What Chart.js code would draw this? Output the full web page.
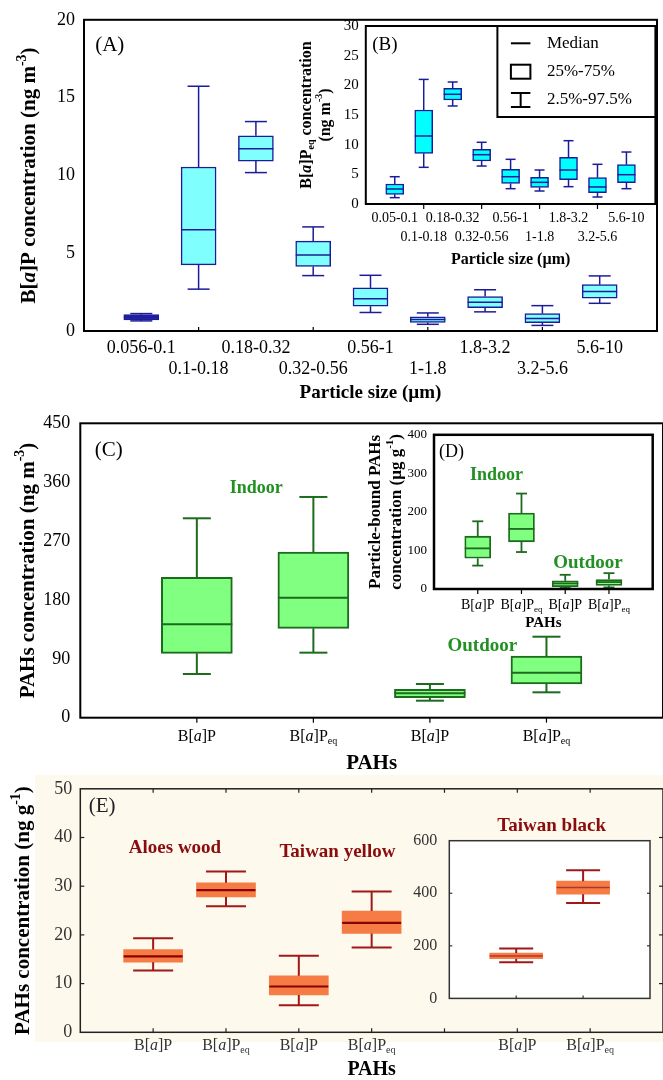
<!DOCTYPE html>
<html>
<head>
<meta charset="utf-8">
<title>B[a]P box plots</title>
<script src="https://cdn.jsdelivr.net/npm/chart.js@4.4.1/dist/chart.umd.min.js"></script>
<style>
  html, body { margin: 0; padding: 0; background: #fff; }
  #fig { position: relative; width: 663px; height: 1080px; overflow: hidden; }
  #fig canvas { position: absolute; }
  #bgE { position: absolute; left: 35px; top: 775px; width: 628px; height: 267px; background: #fdf9ec; }
</style>
</head>
<body>
<div id="fig">
  <div id="bgE"></div>
  <canvas id="chartA" width="663" height="410" style="left:0;top:0"></canvas>
  <canvas id="chartB" width="373" height="265" style="left:290px;top:10px"></canvas>
  <canvas id="chartC" width="663" height="376" style="left:0;top:400px"></canvas>
  <canvas id="chartD" width="303" height="215" style="left:360px;top:420px"></canvas>
  <canvas id="chartE" width="663" height="314" style="left:0;top:770px"></canvas>
  <canvas id="chartTB" width="263" height="210" style="left:400px;top:810px"></canvas>
</div>
<script>
const SERIF = '"Liberation Serif", "Times New Roman", serif';

// (A) B[a]P by particle size, ng m-3
const sizeLabelsA = ['0.056-0.1', '0.1-0.18', '0.18-0.32', '0.32-0.56', '0.56-1', '1-1.8', '1.8-3.2', '3.2-5.6', '5.6-10'];
const aLow  = [0.65, 2.69, 10.18, 3.56, 1.19, 0.43, 1.23, 0.36, 1.78];
const aQ1   = [0.72, 4.25, 10.92, 4.15, 1.59, 0.55, 1.50, 0.53, 2.11];
const aMed  = [0.88, 6.50, 11.72, 4.89, 2.07, 0.74, 1.84, 0.81, 2.54];
const aQ3   = [1.05, 10.54, 12.55, 5.78, 2.77, 0.91, 2.22, 1.12, 2.98];
const aHigh = [1.12, 15.73, 13.46, 6.69, 3.58, 1.16, 2.65, 1.63, 3.54];

// (B) B[a]Peq by particle size, ng m-3
const sizeLabelsB = ['0.05-0.1', '0.1-0.18', '0.18-0.32', '0.32-0.56', '0.56-1', '1-1.8', '1.8-3.2', '3.2-5.6', '5.6-10'];
const bLow  = [1.07, 6.18, 16.52, 6.40, 2.58, 2.19, 2.92, 1.18, 2.58];
const bQ1   = [1.63, 8.54, 17.53, 7.25, 3.48, 2.81, 4.10, 1.91, 3.59];
const bMed  = [2.53, 11.46, 18.49, 8.31, 4.60, 3.65, 5.73, 2.87, 4.94];
const bQ3   = [3.37, 15.84, 19.50, 9.21, 5.84, 4.49, 7.87, 4.44, 6.63];
const bHigh = [4.60, 21.00, 20.56, 10.40, 7.53, 5.73, 10.67, 6.69, 8.76];

// (C) indoor / outdoor, ng m-3
const pahLabels = ['B[a]P', 'B[a]Peq', 'B[a]P', 'B[a]Peq'];
const cLow  = [66.8, 99.4, 26.0, 38.8];
const cQ1   = [98.4, 136.6, 30.6, 51.5];
const cMed  = [142.8, 183.4, 37.3, 68.8];
const cQ3   = [214.6, 253.3, 43.4, 94.3];
const cHigh = [304.8, 337.4, 51.5, 123.8];

// (D) particle-bound, ug g-1
const dLow  = [60.7, 95.9, 2.6, 4.1];
const dQ1   = [79.7, 122.4, 5.9, 9.3];
const dMed  = [105.4, 155.8, 14.4, 18.0];
const dQ3   = [137.0, 197.0, 21.3, 24.7];
const dHigh = [175.6, 247.6, 36.8, 41.1];

// (E) incense, ng g-1 : Aloes wood, Taiwan yellow
const eLow  = [12.7, 25.9, 5.56, 17.4];
const eQ1   = [14.4, 27.8, 7.66, 20.3];
const eMed  = [15.6, 29.2, 9.4, 22.45];
const eQ3   = [17.0, 30.7, 11.6, 24.9];
const eHigh = [19.3, 33.0, 15.7, 28.9];

// Taiwan black
const tbLabels = ['B[a]P', 'B[a]Peq'];
const tbLow  = [137.3, 362.8];
const tbQ1   = [150.7, 396.5];
const tbMed  = [161.5, 421.7];
const tbQ3   = [172.4, 446.0];
const tbHigh = [189.4, 487.9];

function pad(arr, before, after) {
  return [...Array(before).fill(null), ...arr, ...Array(after).fill(null)];
}

function pahSegs(s) {
  const segs = [{t: 'B['}, {t: 'a', it: true}, {t: ']P'}];
  if (s.endsWith('eq')) segs.push({t: 'eq', sub: true});
  return segs;
}

function line(ctx, x1, y1, x2, y2) {
  ctx.beginPath(); ctx.moveTo(x1, y1); ctx.lineTo(x2, y2); ctx.stroke();
}

// text with italic / sub / sup pieces, centred on (x, y)
function drawRich(ctx, segs, x, y, o) {
  ctx.save();
  ctx.translate(x, y);
  if (o.rot) ctx.rotate(o.rot);
  const fnt = (sz, it) => `${it ? 'italic ' : ''}${o.bold ? 'bold ' : ''}${sz}px ${SERIF}`;
  let w = 0;
  const parts = segs.map(g => {
    const sz = (g.sub || g.sup) ? Math.round(o.size * 0.65) : o.size;
    ctx.font = fnt(sz, g.it);
    const pw = ctx.measureText(g.t).width;
    w += pw;
    return {g, sz, pw};
  });
  let cx = -w / 2;
  ctx.fillStyle = o.color || '#000';
  ctx.textBaseline = 'middle';
  ctx.textAlign = 'left';
  for (const p of parts) {
    ctx.font = fnt(p.sz, p.g.it);
    const dy = p.g.sub ? o.size * 0.3 : p.g.sup ? -o.size * 0.38 : 0;
    ctx.fillText(p.g.t, cx, dy);
    cx += p.pw;
  }
  ctx.restore();
}

// whiskers, medians, frame, tick marks, labels drawn off the chart's own scales
function figurePlugin(fig) {
  return {
    id: 'figure',
    beforeDraw(chart) {
      if (!fig.fill) return;
      const a = chart.chartArea, ctx = chart.ctx;
      ctx.save();
      ctx.fillStyle = fig.fill;
      ctx.fillRect(a.left, a.top, a.right - a.left, a.bottom - a.top);
      ctx.restore();
    },
    afterDatasetsDraw(chart) {
      const ctx = chart.ctx, ys = chart.scales.y, ds = chart.data.datasets[0];
      const bars = chart.getDatasetMeta(0).data;
      ctx.save();
      ds.data.forEach((d, i) => {
        if (!d) return;
        const x = bars[i].x, hw = bars[i].width / 2, cw = fig.capWidth / 2;
        const yLo = ys.getPixelForValue(ds.lows[i]), yHi = ys.getPixelForValue(ds.highs[i]);
        const yQ1 = ys.getPixelForValue(d[0]), yQ3 = ys.getPixelForValue(d[1]);
        ctx.strokeStyle = fig.whiskerColor;
        ctx.lineWidth = fig.whiskerWidth;
        line(ctx, x, yQ3, x, yHi); line(ctx, x - cw, yHi, x + cw, yHi);
        line(ctx, x, yQ1, x, yLo); line(ctx, x - cw, yLo, x + cw, yLo);
        const yM = ys.getPixelForValue(ds.meds[i]);
        ctx.strokeStyle = fig.medianColor;
        ctx.lineWidth = fig.medianWidth;
        line(ctx, x - hw, yM, x + hw, yM);
      });
      ctx.restore();
    },
    afterDraw(chart) {
      const ctx = chart.ctx, a = chart.chartArea, xs = chart.scales.x, ys = chart.scales.y;
      ctx.save();
      ctx.strokeStyle = fig.frameColor || '#000';
      ctx.lineWidth = fig.frameWidth || 2;
      ctx.strokeRect(a.left, a.top, a.right - a.left, a.bottom - a.top);

      (fig.marks || []).forEach(m => {
        const horiz = m.side === 'top' || m.side === 'bottom';
        const sc = horiz ? xs : ys;
        const dir = m.out ? 1 : -1;
        ctx.lineWidth = m.width || 1.2;
        m.at.forEach(v => {
          const p = sc.getPixelForValue(v);
          if (m.side === 'bottom') line(ctx, p, a.bottom, p, a.bottom + dir * m.len);
          if (m.side === 'top') line(ctx, p, a.top, p, a.top - dir * m.len);
          if (m.side === 'left') line(ctx, a.left, p, a.left - dir * m.len, p);
          if (m.side === 'right') line(ctx, a.right, p, a.right + dir * m.len, p);
        });
      });

      if (fig.richX) {
        chart.data.labels.forEach((l, i) => {
          if (!l) return;
          drawRich(ctx, pahSegs(l), xs.getPixelForValue(i), a.bottom + fig.richX.dy,
            {size: fig.richX.size, color: fig.richX.color});
        });
      }

      (fig.yTitle || []).forEach(t => {
        drawRich(ctx, t.segs, t.x, (a.top + a.bottom) / 2, {size: t.size, bold: true, rot: -Math.PI / 2});
      });

      (fig.notes || []).forEach(n => {
        drawRich(ctx, [{t: n.text}], xs.getPixelForValue(n.at[0]), ys.getPixelForValue(n.at[1]),
          {size: n.size, bold: n.bold, color: n.color});
      });

      if (fig.legend) {
        const L = fig.legend, x0 = a.right - L.w, y0 = a.top;
        ctx.fillStyle = '#fff';
        ctx.fillRect(x0, y0, L.w, L.h);
        ctx.strokeStyle = '#000';
        ctx.lineWidth = 2;
        ctx.strokeRect(x0, y0, L.w, L.h);
        L.rows.forEach(r => {
          const cy = y0 + r.dy, sx = x0 + 13.5, sw = 19.5;
          ctx.lineWidth = 2;
          if (r.sym === 'line') line(ctx, sx, cy, sx + sw, cy);
          if (r.sym === 'box') ctx.strokeRect(sx, cy - 7, sw, 14);
          if (r.sym === 'bar') {
            line(ctx, sx, cy - 7, sx + sw, cy - 7);
            line(ctx, sx + sw / 2, cy - 7, sx + sw / 2, cy + 7);
            line(ctx, sx, cy + 7, sx + sw, cy + 7);
          }
          ctx.fillStyle = '#000';
          ctx.font = `17px ${SERIF}`;
          ctx.textAlign = 'left';
          ctx.textBaseline = 'middle';
          ctx.fillText(r.text, x0 + 49.5, cy);
        });
      }
      ctx.restore();
    }
  };
}

function makeBoxChart(id, p) {
  return new Chart(document.getElementById(id), {
    type: 'bar',
    data: {
      labels: p.labels,
      datasets: [{
        data: p.q1.map((v, i) => v == null ? null : [v, p.q3[i]]),
        lows: p.lo, meds: p.med, highs: p.hi,
        backgroundColor: p.boxFill,
        borderColor: p.boxStroke,
        borderWidth: p.boxLine,
        borderSkipped: false,
        barThickness: p.boxWidth
      }]
    },
    options: {
      responsive: false,
      animation: false,
      events: [],
      layout: { padding: p.padding },
      plugins: { legend: { display: false }, tooltip: { enabled: false } },
      scales: {
        x: {
          type: 'category',
          offset: false,
          grid: { display: false, drawTicks: false },
          border: { display: false },
          ticks: p.xTicks,
          title: p.xTitle || { display: false },
          afterFit: s => { s.height = p.xHeight; }
        },
        y: {
          min: p.yMin, max: p.yMax,
          grid: { display: false, drawTicks: false },
          border: { display: false },
          ticks: Object.assign({ stepSize: p.yStep, color: '#000', font: { family: SERIF, size: 18 } }, p.yTicks),
          afterFit: s => { s.width = p.yWidth; }
        }
      }
    },
    plugins: [figurePlugin(p.fig)]
  });
}

function twoRowTicks(size, lineHeight, padding) {
  return {
    autoSkip: false, maxRotation: 0, minRotation: 0, padding, color: '#000',
    font: { family: SERIF, size, lineHeight },
    callback(value) {
      const l = this.getLabelForValue(value);
      if (!l) return '';
      return value % 2 === 1 ? [l] : ['', l];
    }
  };
}

const BLUE = '#1c1c9a';
const GREEN = '#1d6b1d';
const GREEN_TXT = '#239023';
const RED = '#a01818';
const RED_TXT = '#8b0c0c';

// (A)
makeBoxChart('chartA', {
  labels: ['', ...sizeLabelsA, ''],
  q1: pad(aQ1, 1, 1), q3: pad(aQ3, 1, 1), lo: pad(aLow, 1, 1), med: pad(aMed, 1, 1), hi: pad(aHigh, 1, 1),
  boxFill: c => c.dataIndex === 1 ? '#2626a6' : '#80ffff', boxStroke: BLUE, boxLine: 1.5, boxWidth: 35,
  padding: { top: 16, right: 0, bottom: 0, left: 0 }, xHeight: 79, yWidth: 84,
  yMin: 0, yMax: 20, yStep: 5, yTicks: { padding: 9 },
  xTicks: twoRowTicks(18, 1.2, 6),
  xTitle: { display: true, text: 'Particle size (\u00b5m)', color: '#000',
    font: { family: SERIF, size: 19, weight: 'bold' }, padding: { top: 0, bottom: 6 } },
  fig: {
    capWidth: 22, whiskerColor: BLUE, whiskerWidth: 1.5, medianColor: BLUE, medianWidth: 1.5,
    frameWidth: 2,
    marks: [{ side: 'bottom', at: [2, 4, 6, 8], len: 4, out: false }],
    yTitle: [{ x: 30, size: 21, segs: [{t: 'B['}, {t: 'a', it: true}, {t: ']P concentration (ng m'}, {t: '-3', sup: true}, {t: ')'}] }],
    notes: [{ text: '(A)', at: [0.45, 18.35], size: 21 }]
  }
});

// (B) inset
makeBoxChart('chartB', {
  labels: ['', ...sizeLabelsB, ''],
  q1: pad(bQ1, 1, 1), q3: pad(bQ3, 1, 1), lo: pad(bLow, 1, 1), med: pad(bMed, 1, 1), hi: pad(bHigh, 1, 1),
  boxFill: '#00ffff', boxStroke: BLUE, boxLine: 1.5, boxWidth: 18,
  padding: { top: 16, right: 7.6, bottom: 0, left: 0 }, xHeight: 71, yWidth: 75.8,
  yMin: 0, yMax: 30, yStep: 5, yTicks: { padding: 7, font: { family: SERIF, size: 15 } },
  xTicks: twoRowTicks(14, 1.36, 4.5),
  xTitle: { display: true, text: 'Particle size (\u00b5m)', color: '#000',
    font: { family: SERIF, size: 16, weight: 'bold' }, padding: { top: 0, bottom: 5.4 } },
  fig: {
    fill: '#fff',
    capWidth: 10, whiskerColor: BLUE, whiskerWidth: 1.5, medianColor: BLUE, medianWidth: 1.5,
    frameWidth: 2,
    marks: [{ side: 'bottom', at: [2, 4, 6, 8], len: 5, out: true }],
    yTitle: [
      { x: 16.5, size: 16, segs: [{t: 'B['}, {t: 'a', it: true}, {t: ']P'}, {t: 'eq', sub: true}, {t: ' concentration'}] },
      { x: 36, size: 16, segs: [{t: '(ng m'}, {t: '-3', sup: true}, {t: ')'}] }
    ],
    notes: [{ text: '(B)', at: [0.66, 26.8], size: 19 }],
    legend: { w: 158, h: 91, rows: [
      { sym: 'line', text: 'Median', dy: 17.3 },
      { sym: 'box', text: '25%-75%', dy: 45.7 },
      { sym: 'bar', text: '2.5%-97.5%', dy: 74 }
    ] }
  }
});

// (C)
makeBoxChart('chartC', {
  labels: ['', ...pahLabels, ''],
  q1: pad(cQ1, 1, 1), q3: pad(cQ3, 1, 1), lo: pad(cLow, 1, 1), med: pad(cMed, 1, 1), hi: pad(cHigh, 1, 1),
  boxFill: '#80ff80', boxStroke: GREEN, boxLine: 2, boxWidth: 71,
  padding: { top: 23.3, right: 0, bottom: 0, left: 0 }, xHeight: 58.3, yWidth: 80.3,
  yMin: 0, yMax: 450, yStep: 90, yTicks: { padding: 10 },
  xTicks: { display: false },
  xTitle: { display: true, text: 'PAHs', color: '#000',
    font: { family: SERIF, size: 21, weight: 'bold' }, padding: { top: 0, bottom: 0 } },
  fig: {
    capWidth: 28, whiskerColor: GREEN, whiskerWidth: 2, medianColor: GREEN, medianWidth: 2,
    frameWidth: 2,
    marks: [{ side: 'bottom', at: [1, 2, 3, 4], len: 5, out: true }],
    richX: { dy: 19, size: 16, color: '#000' },
    yTitle: [{ x: 28.5, size: 21, segs: [{t: 'PAHs concentration (ng m'}, {t: '-3', sup: true}, {t: ')'}] }],
    notes: [
      { text: '(C)', at: [0.245, 409], size: 21 },
      { text: 'Indoor', at: [1.51, 351], size: 18, bold: true, color: GREEN_TXT },
      { text: 'Outdoor', at: [3.45, 109.7], size: 19, bold: true, color: GREEN_TXT }
    ]
  }
});

// (D) inset
makeBoxChart('chartD', {
  labels: ['', ...pahLabels, ''],
  q1: pad(dQ1, 1, 1), q3: pad(dQ3, 1, 1), lo: pad(dLow, 1, 1), med: pad(dMed, 1, 1), hi: pad(dHigh, 1, 1),
  boxFill: '#80ff80', boxStroke: GREEN, boxLine: 1.8, boxWidth: 26,
  padding: { top: 12.7, right: 10.3, bottom: 0, left: 0 }, xHeight: 46, yWidth: 74,
  yMin: 0, yMax: 400, yStep: 100, yTicks: { padding: 7, font: { family: SERIF, size: 13 } },
  xTicks: { display: false },
  xTitle: { display: true, text: 'PAHs', color: '#000',
    font: { family: SERIF, size: 15, weight: 'bold' }, padding: { top: 0, bottom: 3 } },
  fig: {
    fill: '#fff',
    capWidth: 11, whiskerColor: GREEN, whiskerWidth: 1.8, medianColor: GREEN, medianWidth: 1.8,
    frameWidth: 2.5,
    marks: [{ side: 'bottom', at: [1, 2, 3, 4], len: 5, out: true }],
    richX: { dy: 16, size: 14, color: '#000' },
    yTitle: [
      { x: 16, size: 17, segs: [{t: 'Particle-bound PAHs'}] },
      { x: 37, size: 17, segs: [{t: 'concentration (\u00b5g g'}, {t: '-1', sup: true}, {t: ')'}] }
    ],
    notes: [
      { text: '(D)', at: [0.4, 355.5], size: 18 },
      { text: 'Indoor', at: [1.43, 295.6], size: 18, bold: true, color: GREEN_TXT },
      { text: 'Outdoor', at: [3.52, 68.4], size: 19, bold: true, color: GREEN_TXT }
    ]
  }
});

// (E)
makeBoxChart('chartE', {
  labels: ['', ...pahLabels, '', ...tbLabels, ''],
  q1: pad(eQ1, 1, 4), q3: pad(eQ3, 1, 4), lo: pad(eLow, 1, 4), med: pad(eMed, 1, 4), hi: pad(eHigh, 1, 4),
  boxFill: '#f67c45', boxStroke: '#f67c45', boxLine: 0, boxWidth: 59,
  padding: { top: 16.7, right: 0, bottom: 0, left: 0 }, xHeight: 51.7, yWidth: 80.3,
  yMin: 0, yMax: 50, yStep: 10, yTicks: { padding: 8, color: '#333' },
  xTicks: { display: false },
  xTitle: { display: true, text: 'PAHs', color: '#000',
    font: { family: SERIF, size: 20, weight: 'bold' }, padding: { top: 0, bottom: 2 } },
  fig: {
    capWidth: 40, whiskerColor: RED, whiskerWidth: 2, medianColor: '#8b0000', medianWidth: 2.2,
    frameColor: '#222', frameWidth: 1.5,
    marks: [
      { side: 'bottom', at: [1, 2, 3, 4, 5, 6, 7], len: 4, out: false },
      { side: 'top', at: [1, 2, 3, 4, 5, 6, 7], len: 4, out: false },
      { side: 'left', at: [10, 20, 30, 40], len: 4, out: false },
      { side: 'right', at: [10, 20, 30, 40], len: 4, out: false }
    ],
    richX: { dy: 13, size: 16, color: '#333' },
    yTitle: [{ x: 24, size: 21, segs: [{t: 'PAHs concentration (ng g'}, {t: '-1', sup: true}, {t: ')'}] }],
    notes: [
      { text: '(E)', at: [0.3, 46.3], size: 21, color: '#222' },
      { text: 'Aloes wood', at: [1.3, 37.8], size: 19, bold: true, color: RED_TXT },
      { text: 'Taiwan yellow', at: [3.53, 37.1], size: 19, bold: true, color: RED_TXT }
    ]
  }
});

// Taiwan black inset
makeBoxChart('chartTB', {
  labels: ['', ...tbLabels, ''],
  q1: pad(tbQ1, 1, 1), q3: pad(tbQ3, 1, 1), lo: pad(tbLow, 1, 1), med: pad(tbMed, 1, 1), hi: pad(tbHigh, 1, 1),
  boxFill: '#f67c45', boxStroke: '#f67c45', boxLine: 0, boxWidth: 53,
  padding: { top: 30.7, right: 13, bottom: 0, left: 0 }, xHeight: 13.3, yWidth: 49.3,
  yMin: 0, yMax: 600, yStep: 200, yTicks: { padding: 12, color: '#333', font: { family: SERIF, size: 16 } },
  xTicks: { display: false },
  fig: {
    fill: '#fff',
    capWidth: 34, whiskerColor: RED, whiskerWidth: 2, medianColor: '#b0352a', medianWidth: 1.5,
    frameColor: '#333', frameWidth: 1.5,
    marks: [
      { side: 'bottom', at: [1, 2], len: 3, out: false },
      { side: 'left', at: [200, 400], len: 3, out: false },
      { side: 'right', at: [200, 400], len: 3, out: false }
    ],
    notes: [{ text: 'Taiwan black', at: [1.53, 656.7], size: 19, bold: true, color: RED_TXT }]
  }
});
</script>
</body>
</html>
